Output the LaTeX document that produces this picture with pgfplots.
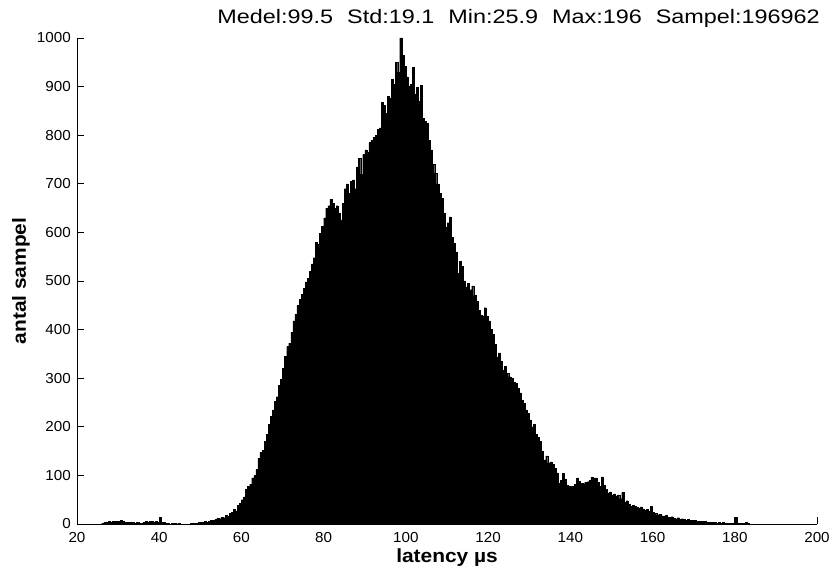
\documentclass[border=0pt]{standalone}
\usepackage{fontspec}
\setmainfont{Liberation Sans}[FakeStretch=1.05]
\newfontfamily\titlefont{Liberation Sans}[FakeStretch=1.2]
\newfontfamily\labelfont{Liberation Sans}[FakeStretch=1.1]
\usepackage{pgfplots}
\usepackage{pgfplotstable}
\pgfplotsset{compat=1.18}

% histogram bins, left edge and count
\pgfplotstableread{
x y
26 2
26.5 3
27 3
27.5 5
28 4
28.5 6
29 5
29.5 6
30 5
30.5 7
31 6
31.5 4
32 3
32.5 4
33 3
33.5 3
34 2
34.5 3
35 2
35.5 2
36 4
36.5 5
37 4
37.5 5
38 6
38.5 4
39 5
39.5 3
40 14
40.5 3
41 3
41.5 2
42 2
42.5 0
43 2
43.5 1
44 0
44.5 2
45 0
45.5 0
46 0
46.5 0
47 0
47.5 1
48 2
48.5 2
49 1
49.5 3
50 3
50.5 4
51 5
51.5 4
52 6
52.5 8
53 7
53.5 9
54 12
54.5 11
55 14
55.5 13
56 18
56.5 16
57 22
57.5 24
58 30
58.5 27
59 38
59.5 42
60 50
60.5 56
61 72
61.5 78
62 82
62.5 95
63 100
63.5 112
64 135
64.5 148
65 152
65.5 170
66 185
66.5 205
67 222
67.5 235
68 252
68.5 262
69 285
69.5 298
70 320
70.5 345
71 365
71.5 372
72 395
72.5 418
73 432
73.5 450
74 462
74.5 472
75 485
75.5 498
76 505
76.5 520
77 535
77.5 548
78 580
78.5 575
79 598
79.5 612
80 630
80.5 650
81 655
81.5 668
82 660
82.5 650
83 655
83.5 640
84 626
84.5 660
85 690
85.5 700
86 680
86.5 705
87 708
87.5 690
88 735
88.5 752
89 720
89.5 760
90 770
90.5 765
91 785
91.5 790
92 796
92.5 800
93 812
93.5 815
94 868
94.5 862
95 845
95.5 880
96 876
96.5 915
97 905
97.5 950
98 930
98.5 1000
99 965
99.5 942
100 920
100.5 900
101 905
101.5 940
102 885
102.5 899
103 870
103.5 902
104 835
104.5 828
105 824
105.5 790
106 770
106.5 740
107 722
107.5 700
108 680
108.5 670
109 640
109.5 611
110 620
110.5 632
111 590
111.5 578
112 560
112.5 516
113 540
113.5 530
114 500
114.5 488
115 495
115.5 482
116 490
116.5 470
117 458
117.5 440
118 430
118.5 428
119 445
119.5 427
120 418
120.5 400
121 390
121.5 370
122 344
122.5 352
123 335
123.5 317
124 325
124.5 310
125 303
125.5 300
126 292
126.5 290
127 280
127.5 270
128 255
128.5 248
129 235
129.5 228
130 214
130.5 200
131 205
131.5 185
132 179
132.5 170
133 150
133.5 132
134 140
134.5 126
135 128
135.5 123
136 115
136.5 105
137 84
137.5 90
138 104
138.5 92
139 80
139.5 77
140 78
140.5 77
141 82
141.5 95
142 88
142.5 84
143 83
143.5 86
144 87
144.5 90
145 96
145.5 94
146 95
146.5 86
147 77
147.5 97
148 80
148.5 72
149 64
149.5 66
150 60
150.5 62
151 58
151.5 60
152 52
152.5 65
153 44
153.5 48
154 40
154.5 36
155 38
155.5 36
156 34
156.5 33
157 35
157.5 31
158 28
158.5 30
159 26
159.5 37
160 24
160.5 22
161 19
161.5 20
162 17
162.5 16
163 18
163.5 14
164 14
164.5 15
165 12
165.5 11
166 13
166.5 10
167 11
167.5 10
168 8
168.5 9
169 7
169.5 8
170 7
170.5 6
171 6
171.5 5
172 5
172.5 5
173 4
173.5 4
174 3
174.5 4
175 3
175.5 2
176 3
176.5 2
177 3
177.5 2
178 2
178.5 1
179 2
179.5 1
180 14
180.5 1
181 2
181.5 1
182 2
182.5 3
183 1
183.5 0
184 0
}\hist

\begin{document}
\begin{tikzpicture}
\begin{axis}[
    scale only axis,
    width=740bp,
    height=486bp,
    at={(0,0)},
    anchor=south west,
    xmin=20, xmax=200,
    ymin=0, ymax=1000,
    axis lines*=left,
    axis line style={line width=0.8bp},
    tick align=inside,
    major tick length=7bp,
    tick style={line width=0.8bp, black},
    xtick={20,40,...,200},
    ytick={0,100,...,1000},
    /pgf/number format/assume math mode=true,
    /pgf/number format/1000 sep={},
    ticklabel style={font=\fontsize{14.5bp}{17bp}\selectfont},
    xticklabel style={anchor=base, yshift=-18bp, inner sep=0pt},
    yticklabel style={anchor=east, xshift=-6bp, inner sep=0pt},
    clip=false,
]
\addplot[ybar interval, fill=black, draw=black, line width=0.3bp] table[x=x, y=y] {\hist};
\end{axis}
\node[anchor=base east, inner sep=0pt, font=\titlefont\fontsize{19.5bp}{22bp}\selectfont]
    at (743bp,500bp) {Medel:99.5\hspace{14bp}Std:19.1\hspace{14bp}Min:25.9\hspace{14bp}Max:196\hspace{14bp}Sampel:196962};
\node[anchor=base, inner sep=0pt, font=\labelfont\bfseries\fontsize{19bp}{22bp}\selectfont]
    at (370bp,-38bp) {latency µs};
\node[rotate=90, anchor=center, inner sep=0pt, font=\labelfont\bfseries\fontsize{19bp}{22bp}\selectfont]
    at (-56bp,243bp) {antal sampel};
\pgfresetboundingbox
\path (-77bp,-45bp) rectangle (755bp,524bp);
\end{tikzpicture}
\end{document}
